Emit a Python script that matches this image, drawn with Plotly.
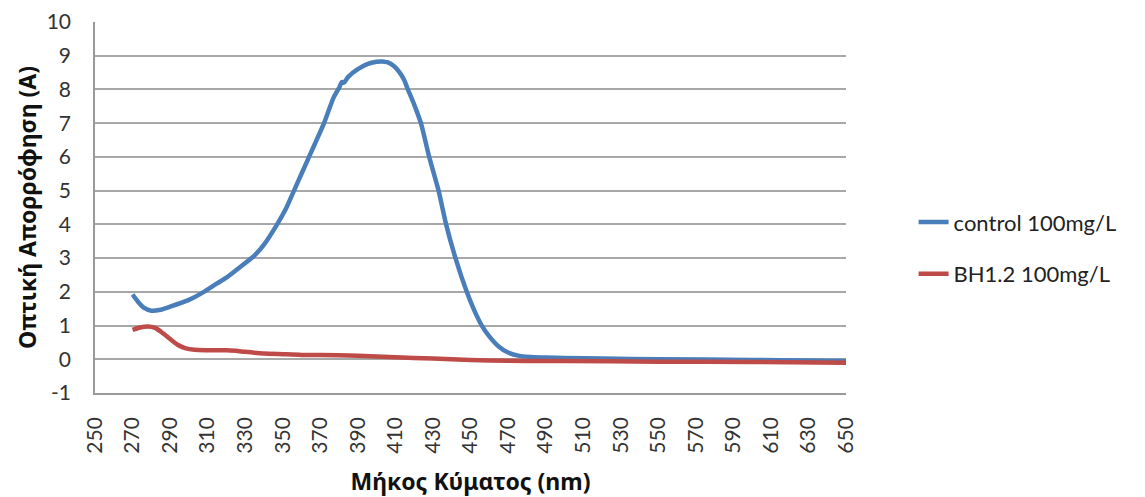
import plotly.graph_objects as go

# Wavelength (nm) and absorbance values
control_wl = [270, 273, 276, 280, 285, 290, 300, 308, 315, 320, 327, 335, 340, 347, 352, 356,
              360, 364, 368, 372, 377, 380, 381.5, 382.5, 385, 390, 395, 400, 403, 406, 409,
              412, 414.5, 416.5, 420, 423.6, 428, 433, 437, 442, 448, 452, 456, 460, 465, 470,
              476, 482, 490, 500, 520, 550, 600, 650]
control_abs = [1.92, 1.7, 1.53, 1.44, 1.47, 1.56, 1.76, 2.0, 2.25, 2.42, 2.72, 3.08, 3.4, 4.0,
               4.5, 5.0, 5.5, 6.0, 6.5, 7.0, 7.75, 8.05, 8.22, 8.2, 8.38, 8.6, 8.75, 8.82, 8.83,
               8.8, 8.7, 8.52, 8.3, 8.02, 7.55, 7.0, 6.0, 5.0, 4.0, 3.0, 2.0, 1.45, 1.0, 0.68,
               0.38, 0.2, 0.1, 0.07, 0.05, 0.04, 0.02, 0.0, -0.02, -0.05]

bh_wl = [270, 274, 278, 282, 286, 290, 294, 298, 303, 310, 320, 325, 330, 340, 350, 360, 380,
         400, 420, 440, 460, 480, 500, 550, 600, 650]
bh_abs = [0.87, 0.94, 0.97, 0.93, 0.78, 0.6, 0.43, 0.33, 0.28, 0.27, 0.27, 0.25, 0.22, 0.17,
          0.15, 0.13, 0.12, 0.08, 0.04, 0.0, -0.04, -0.05, -0.05, -0.07, -0.08, -0.1]

x_ticks = list(range(250, 651, 20))
y_ticks = list(range(-1, 11))

series_names = ["control 100mg/L", "BH1.2 100mg/L"]
series_colors = ["#4a7ebb", "#be4b48"]

fig = go.Figure()
fig.add_trace(go.Scatter(x=control_wl, y=control_abs, mode="lines", name=series_names[0],
                         legendgroup="a", line=dict(color=series_colors[0], width=4.5, shape="spline", smoothing=0.6)))
fig.add_trace(go.Scatter(x=bh_wl, y=bh_abs, mode="lines", name=series_names[1],
                         legendgroup="b", line=dict(color=series_colors[1], width=4.5, shape="spline", smoothing=0.6)))

tick_font = dict(family="Lato, Noto Sans, sans-serif", size=21, color="#333333")
title_font = dict(family="Noto Sans, sans-serif", size=23, color="#111111")

fig.update_layout(
    width=1145, height=497,
    margin=dict(l=95, r=299, t=22, b=104, autoexpand=False),
    paper_bgcolor="white", plot_bgcolor="white",
    showlegend=True,
    legend=dict(x=1.09, xanchor="left", y=0.39, yanchor="middle",
                font=dict(family="Lato, Noto Sans, sans-serif", size=22, color="#222222"),
                tracegroupgap=20, bgcolor="rgba(0,0,0,0)"),
    xaxis=dict(range=[250, 650], tickmode="array", tickvals=x_ticks,
               ticktext=[str(v) for v in x_ticks], tickangle=-90,
               tickfont=tick_font, showgrid=False, zeroline=False,
               showline=True, linecolor="#9a9a9a", linewidth=1.5,
               ticks="", ticklabelstandoff=14,
               title=dict(text="<b>Μήκος Κύματος (nm)</b>", font=title_font, standoff=22),
               automargin=False),
    yaxis=dict(range=[-1, 10], tickmode="array", tickvals=y_ticks,
               ticktext=[str(v) for v in y_ticks],
               tickfont=tick_font, showgrid=True, gridcolor="#a8a8a8", gridwidth=1.5,
               zeroline=False, showline=True, linecolor="#9a9a9a", linewidth=1.5,
               ticks="", ticklabelstandoff=18,
               title=dict(text="<b>Οπτική Απορρόφηση (A)</b>", font=title_font, standoff=4),
               automargin=False),
)

fig.write_html("out.html")
